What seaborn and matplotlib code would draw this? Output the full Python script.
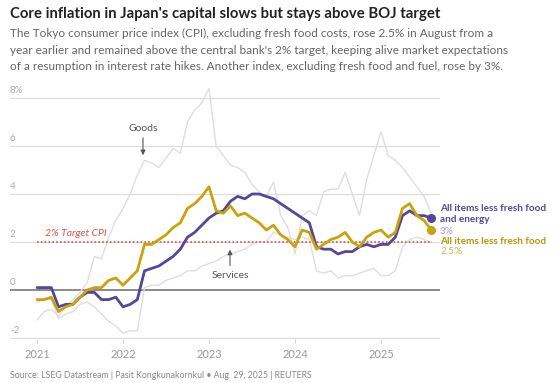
import numpy as np
import pandas as pd
import matplotlib
matplotlib.use("Agg")
import matplotlib.pyplot as plt
import seaborn as sns

# ---------------- data (monthly, Jan 2021 - Aug 2025) ----------------
start_year = 2021
less_fresh_food = [
    -0.4, -0.4, -0.3, -0.9, -0.7, -0.6, -0.3, 0.0, 0.1, 0.1, 0.4, 0.5,
    0.2, 0.5, 0.8, 1.9, 1.9, 2.1, 2.3, 2.6, 2.8, 3.4, 3.6, 3.9,
    4.3, 3.3, 3.2, 3.5, 3.1, 3.2, 3.0, 2.8, 2.5, 2.7, 2.3, 2.1,
    1.8, 2.5, 2.4, 1.7, 1.9, 2.1, 2.2, 2.4, 2.0, 1.8, 2.2, 2.4,
    2.5, 2.2, 2.4, 3.4, 3.6, 3.1, 2.9, 2.5,
]
less_fresh_food_energy = [
    0.1, 0.1, 0.1, -0.7, -0.6, -0.6, -0.3, -0.1, -0.1, -0.4, -0.4, -0.3,
    -0.7, -0.6, -0.4, 0.8, 0.9, 1.0, 1.2, 1.4, 1.7, 2.2, 2.4, 2.7,
    3.0, 3.2, 3.3, 3.7, 3.9, 3.8, 4.0, 4.0, 3.9, 3.8, 3.6, 3.4,
    3.2, 3.0, 2.8, 1.8, 1.7, 1.7, 1.5, 1.6, 1.6, 1.8, 1.9, 1.8,
    1.9, 1.9, 2.2, 3.1, 3.3, 3.1, 3.1, 3.0,
]
goods = [
    -1.25, -0.9, -0.8, -1.1, -0.7, -0.4, -0.1, 0.3, 1.4, 1.3, 2.2, 2.9,
    3.4, 4.0, 4.8, 5.4, 5.3, 5.1, 5.5, 5.9, 5.7, 7.0, 7.5, 7.8,
    8.4, 6.0, 5.6, 5.2, 5.1, 4.9, 4.4, 4.1, 3.9, 4.5, 3.1, 2.6,
    1.5, 3.1, 3.3, 3.1, 4.1, 4.2, 4.2, 4.9, 4.0, 3.1, 4.6, 5.6,
    6.6, 5.6, 5.4, 5.1, 4.7, 4.3, 3.9, 3.2,
]
services = [
    -0.5, -0.4, -0.4, -1.2, -1.0, -0.9, -0.6, -0.5, -0.7, -1.0, -1.3, -1.5,
    -1.8, -1.7, -1.7, 0.1, 0.2, 0.2, 0.4, 0.5, 0.6, 0.8, 0.8, 1.0,
    1.1, 1.2, 1.4, 1.5, 1.6, 1.7, 1.9, 2.0, 2.0, 2.4, 2.3, 2.2,
    2.1, 2.2, 2.1, 0.8, 0.7, 0.8, 0.5, 0.6, 0.6, 0.7, 0.8, 0.9,
    0.6, 0.6, 0.8, 1.8, 2.1, 2.2, 2.1, 2.0,
]
target = 2.0
y_ticks = [-2, 0, 2, 4, 6, 8]
y_tick_labels = ["-2", "0", "2", "4", "6", "8%"]
x_ticks = [2021, 2022, 2023, 2024, 2025]

title = "Core inflation in Japan's capital slows but stays above BOJ target"
subtitle = ["The Tokyo consumer price index (CPI), excluding fresh food costs, rose 2.5% in August from a",
            "year earlier and remained above the central bank's 2% target, keeping alive market expectations",
            "of a resumption in interest rate hikes. Another index, excluding fresh food and fuel, rose by 3%."]
source = "Source: LSEG Datastream | Pasit Kongkunakornkul \u2022 Aug. 29, 2025 | REUTERS"

n = len(less_fresh_food)
t = start_year + np.arange(n) / 12.0
df = pd.DataFrame({
    "t": np.tile(t, 4),
    "value": goods + services + less_fresh_food + less_fresh_food_energy,
    "series": ["Goods"] * n + ["Services"] * n + ["Core"] * n + ["CoreCore"] * n,
})

# ---------------- styling ----------------
sns.set_theme(style="white")
plt.rcParams["font.family"] = ["Lato", "DejaVu Sans"]

W, H = 554, 383
fig = plt.figure(figsize=(W / 100, H / 100), dpi=100)

def fx(x):
    return x / W

def fy(y):
    return 1 - y / H

# axes placement in pixels
ax_l, ax_r, ax_t, ax_b = 10, 440, 85, 339
ax = fig.add_axes([fx(ax_l), fy(ax_b), fx(ax_r - ax_l), (ax_b - ax_t) / H])
# pixel mapping: x = 37 + 86*(year-2021); y = 290 - 24*v
ax.set_xlim(2021 + (ax_l - 37) / 86, 2021 + (ax_r - 37) / 86)
ax.set_ylim((290 - ax_b) / 24, (290 - ax_t) / 24)

GOLD = "#c9a20c"
PURPLE = "#54479a"
GRAY = "#dedede"

palette = {"Goods": GRAY, "Services": GRAY, "Core": GOLD, "CoreCore": PURPLE}
widths = {"Goods": 1.0, "Services": 1.0, "Core": 2.0, "CoreCore": 2.0}

for s in ["Goods", "Services"]:
    sns.lineplot(data=df[df.series == s], x="t", y="value", color=palette[s],
                 lw=widths[s], ax=ax, legend=False, zorder=2)

# gridlines
for v, lab in zip(y_ticks, y_tick_labels):
    if v == 0:
        ax.axhline(v, color="#777777", lw=1.2, zorder=1.5)
    else:
        ax.axhline(v, color="#dddddd", lw=0.9, zorder=1)
    ax.text(0.0, v + 0.12, lab, transform=ax.get_yaxis_transform(),
            ha="left", va="bottom", fontsize=7, color="#aaaaaa")

# target line
ax.axhline(target, xmin=(37 - ax_l) / (ax_r - ax_l), xmax=(432 - ax_l) / (ax_r - ax_l),
           color="#d9534f", lw=1.2, ls=(0, (1, 1.3)), zorder=2.5)
ax.text(2021 + 8 / 86, target + 0.15, "2% Target CPI", fontsize=7.5, style="italic",
        color="#d9534f", ha="left", va="bottom", zorder=3)

for s in ["CoreCore", "Core"]:
    sns.lineplot(data=df[df.series == s], x="t", y="value", color=palette[s],
                 lw=widths[s], ax=ax, legend=False, zorder=4)

ax.scatter([t[-1]], [less_fresh_food_energy[-1]], s=30, color=PURPLE, zorder=5)
ax.scatter([t[-1]], [less_fresh_food[-1]], s=30, color=GOLD, zorder=5)

# annotations
ax.annotate("", xy=(2021 + (143 - 37) / 86, 5.5), xytext=(2021 + (143 - 37) / 86, 6.45),
            arrowprops=dict(arrowstyle="-|>", color="#555555", lw=0.8, mutation_scale=7))
ax.text(2021 + (143 - 37) / 86, 6.55, "Goods", ha="center", va="bottom", fontsize=7.5, color="#555555")
ax.annotate("", xy=(2021 + (230 - 37) / 86, 1.8), xytext=(2021 + (230 - 37) / 86, 0.9),
            arrowprops=dict(arrowstyle="-|>", color="#555555", lw=0.8, mutation_scale=7))
ax.text(2021 + (230 - 37) / 86, 0.8, "Services", ha="center", va="top", fontsize=7.5, color="#555555")

# x axis
ax.set_xticks(x_ticks)
ax.set_xticklabels([str(x) for x in x_ticks], fontsize=8, color="#999999")
ax.set_yticks([])
ax.set_xlabel("")
ax.set_ylabel("")
ax.tick_params(axis="x", length=3, width=0.6, color="#cccccc", pad=4, bottom=True)
for sp in ax.spines.values():
    sp.set_visible(False)

# right-side labels
fs_lab = 7.2
fig.text(fx(440), fy(208), "All items less fresh food", fontsize=fs_lab, fontweight="bold",
         color=PURPLE, ha="left", va="center")
fig.text(fx(440), fy(220), "and energy", fontsize=fs_lab, fontweight="bold",
         color=PURPLE, ha="left", va="center")
fig.text(fx(440), fy(231), "3%", fontsize=fs_lab, color="#a59bd0", ha="left", va="center")
fig.text(fx(440), fy(241), "All items less fresh food", fontsize=fs_lab, fontweight="bold",
         color="#b8960a", ha="left", va="center")
fig.text(fx(440), fy(252), "2.5%", fontsize=fs_lab, color="#cdb35a", ha="left", va="center")

# title / subtitle / source
fig.text(fx(10), fy(14), title, fontsize=10.7, fontweight="bold", color="#222222",
         ha="left", va="center")
for i, line in enumerate(subtitle):
    fig.text(fx(10), fy(33 + 17 * i), line, fontsize=8.5, color="#666666", ha="left", va="center")
fig.text(fx(10), fy(375), source, fontsize=6.3, color="#888888", ha="left", va="center")

fig.savefig("out.png", dpi=100)
